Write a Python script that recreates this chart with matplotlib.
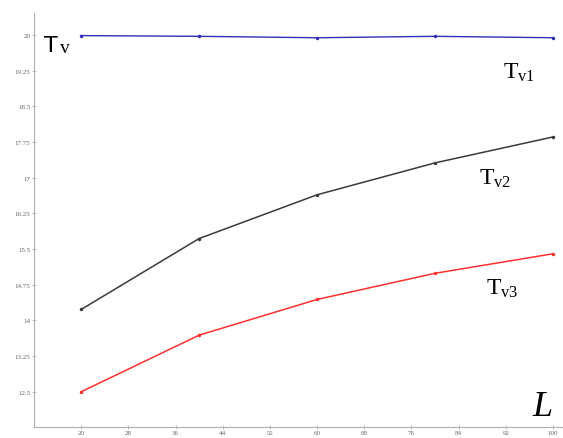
import numpy as np
import matplotlib
matplotlib.use("Agg")
import matplotlib.pyplot as plt
from matplotlib.ticker import FuncFormatter

# lengths L and the three temperature series
L = [20, 40, 60, 80, 100]
tv1 = [19.985, 19.97, 19.94, 19.97, 19.94]
tv2 = [14.23, 15.72, 16.64, 17.31, 17.855]
tv3 = [12.50, 13.69, 14.44, 14.99, 15.40]

x_ticks = np.arange(20, 101, 8)
y_ticks = np.arange(12.5, 20.01, 0.75)

plt.rcParams["mathtext.fontset"] = "custom"
plt.rcParams["mathtext.rm"] = "Liberation Serif"
plt.rcParams["mathtext.it"] = "Liberation Serif:italic"

W, H = 563, 439
fig = plt.figure(figsize=(W / 100, H / 100), dpi=100)
ax = fig.add_axes([0.0604, 0.0251, 0.9396, 0.943])

ax.plot(L, tv1, color="#3030b4", lw=1.0, marker="o", ms=1.5)
ax.plot(L, tv2, color="#3a3a3a", lw=1.1, marker="o", ms=1.5)
ax.plot(L, tv3, color="#ff3030", lw=1.1, marker="o", ms=1.5)

ax.set_xlim(12, 101.7)
ax.set_ylim(11.76, 20.46)
ax.set_xticks(x_ticks)
ax.set_yticks(y_ticks)
ax.yaxis.set_major_formatter(FuncFormatter(lambda v, p: "%g" % round(v, 2)))

for s in ["top", "right"]:
    ax.spines[s].set_visible(False)
for s in ["left", "bottom"]:
    ax.spines[s].set_color("#b0b0b0")
    ax.spines[s].set_linewidth(0.8)
ax.tick_params(direction="inout", length=3, width=0.6, color="#b0b0b0",
               labelsize=5, labelcolor="#666666", pad=1)
for lab in ax.get_xticklabels() + ax.get_yticklabels():
    lab.set_family("Liberation Serif")

# axis names and series labels (pixel positions, origin bottom-left)
fig.text(44 / W, (H - 52) / H, "T", fontsize=16, family="DejaVu Sans",
         va="baseline", ha="left")
fig.text(60 / W, (H - 53) / H, "v", fontsize=14, family="Liberation Serif",
         va="baseline", ha="left")
fig.text(503 / W, (H - 79) / H, r"$\mathrm{T}_{\mathrm{v1}}$",
         fontsize=17, va="baseline", ha="left")
fig.text(479 / W, (H - 185) / H, r"$\mathrm{T}_{\mathrm{v2}}$",
         fontsize=17, va="baseline", ha="left")
fig.text(486 / W, (H - 295) / H, r"$\mathrm{T}_{\mathrm{v3}}$",
         fontsize=17, va="baseline", ha="left")
fig.text(532 / W, (H - 416) / H, r"$\mathit{L}$", fontsize=26,
         va="baseline", ha="left")

fig.savefig("out.png", dpi=100)
